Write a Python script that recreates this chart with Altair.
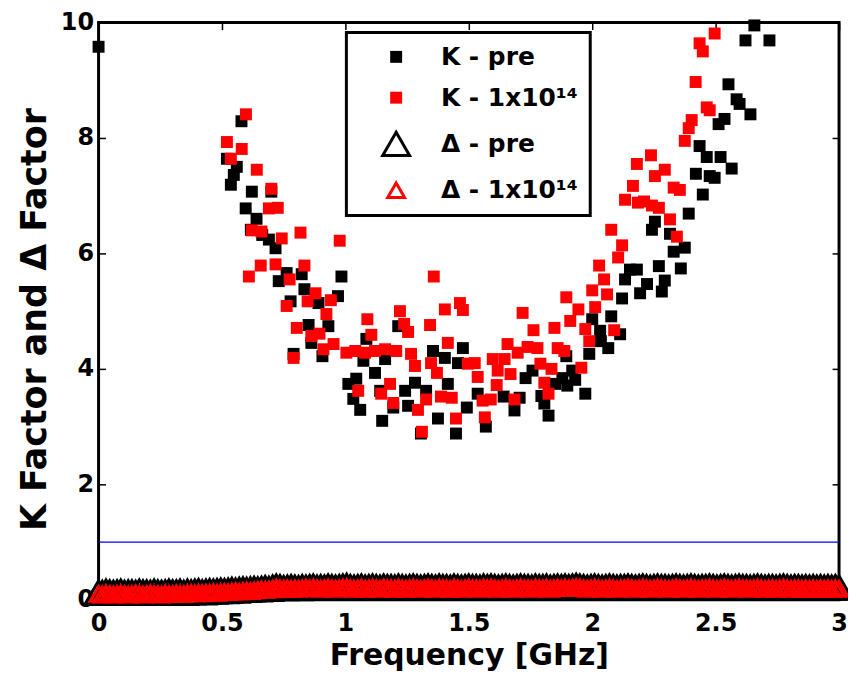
import altair as alt
import pandas as pd

FONT = "DejaVu Sans"

SERIES = ["K - pre", "K - 1x10¹⁴", "Δ - pre", "Δ - 1x10¹⁴"]

# K factor, before irradiation: (frequency GHz, K)
k_pre = [
    (0.0, 9.58), (0.52, 7.64), (0.536, 7.19), (0.548, 7.36), (0.56, 7.5), (0.579, 8.29),
    (0.596, 6.78), (0.617, 6.41), (0.621, 7.07), (0.64, 6.6), (0.663, 6.32), (0.69, 6.24),
    (0.70, 7.07), (0.717, 6.09), (0.73, 5.52), (0.762, 5.66), (0.778, 5.17), (0.79, 4.26),
    (0.823, 5.64), (0.834, 5.38), (0.851, 4.76), (0.862, 4.45), (0.891, 5.14), (0.907, 4.22),
    (0.931, 4.74), (0.97, 5.26), (0.984, 5.6), (1.012, 3.74), (1.032, 3.48), (1.044, 3.83),
    (1.06, 3.29), (1.073, 4.14), (1.085, 4.52), (1.12, 3.93), (1.141, 3.62), (1.149, 3.1),
    (1.161, 4.17), (1.194, 3.33), (1.214, 4.74), (1.242, 3.62), (1.254, 3.36), (1.282, 3.76),
    (1.306, 2.88), (1.327, 3.62), (1.355, 4.31), (1.375, 3.14), (1.403, 4.19), (1.415, 3.74),
    (1.448, 2.88), (1.456, 4.1), (1.476, 4.36), (1.492, 3.33), (1.536, 3.57), (1.569, 3.0),
    (1.641, 3.52), (1.685, 3.28), (1.706, 3.5), (1.73, 3.84), (1.758, 3.97), (1.794, 3.53),
    (1.806, 3.4), (1.823, 3.19), (1.851, 3.74), (1.879, 3.84), (1.895, 4.22), (1.899, 3.71),
    (1.919, 3.97), (1.931, 3.81), (1.972, 3.57), (1.988, 4.26), (2.0, 4.86), (2.032, 4.66),
    (2.035, 4.48), (2.065, 4.36), (2.077, 4.91), (2.113, 4.6), (2.121, 5.22), (2.133, 5.55),
    (2.153, 5.72), (2.181, 5.72), (2.194, 5.31), (2.222, 5.47), (2.242, 6.41), (2.254, 6.55),
    (2.27, 5.78), (2.282, 5.34), (2.294, 5.53), (2.315, 6.34), (2.33, 6.03), (2.359, 5.74),
    (2.375, 6.1), (2.391, 6.69), (2.42, 7.38), (2.435, 7.86), (2.448, 7.02), (2.464, 7.67),
    (2.476, 7.34), (2.496, 7.31), (2.512, 8.24), (2.52, 7.67), (2.536, 8.33), (2.552, 8.93),
    (2.565, 7.47), (2.585, 8.67), (2.597, 8.59), (2.621, 9.69), (2.641, 8.41), (2.657, 9.95),
    (2.718, 9.69),
]

# K factor, after 1x10^14
k_irr = [
    (0.52, 7.93), (0.536, 7.64), (0.58, 7.81), (0.597, 8.41), (0.609, 5.6), (0.621, 6.4),
    (0.641, 7.45), (0.657, 5.79), (0.66, 6.38), (0.69, 6.78), (0.70, 7.12), (0.717, 5.81),
    (0.726, 6.79), (0.742, 6.26), (0.762, 5.09), (0.774, 5.55), (0.79, 4.19), (0.803, 4.71),
    (0.818, 6.36), (0.834, 5.79), (0.847, 5.17), (0.862, 4.57), (0.879, 5.31), (0.895, 4.61),
    (0.911, 4.34), (0.923, 4.95), (0.941, 5.19), (0.952, 4.43), (0.977, 6.22), (1.004, 4.28),
    (1.04, 4.31), (1.052, 3.62), (1.08, 4.28), (1.089, 4.86), (1.105, 4.59), (1.12, 4.31),
    (1.145, 3.57), (1.161, 4.34), (1.181, 3.74), (1.194, 3.41), (1.206, 4.31), (1.221, 5.0),
    (1.238, 4.78), (1.254, 4.64), (1.266, 4.26), (1.282, 4.05), (1.294, 3.29), (1.31, 2.91),
    (1.327, 3.47), (1.343, 4.76), (1.347, 4.1), (1.358, 5.6), (1.371, 3.93), (1.387, 3.52),
    (1.403, 5.03), (1.415, 4.45), (1.431, 3.5), (1.448, 3.14), (1.464, 5.14), (1.476, 5.02),
    (1.496, 4.09), (1.524, 4.1), (1.536, 3.86), (1.556, 3.45), (1.565, 3.16), (1.589, 3.47),
    (1.597, 4.17), (1.613, 3.72), (1.617, 3.97), (1.645, 4.17), (1.657, 4.43), (1.669, 3.91),
    (1.685, 3.47), (1.698, 4.28), (1.718, 4.97), (1.738, 4.38), (1.762, 4.67), (1.778, 4.36),
    (1.79, 4.09), (1.806, 3.76), (1.823, 3.57), (1.835, 4.0), (1.847, 4.71), (1.86, 4.36),
    (1.887, 4.31), (1.895, 5.24), (1.911, 4.83), (1.944, 5.03), (1.956, 4.02), (1.972, 4.69),
    (1.988, 4.48), (2.0, 5.36), (2.012, 5.07), (2.028, 5.79), (2.048, 5.55), (2.06, 5.29),
    (2.077, 6.41), (2.089, 4.67), (2.105, 5.93), (2.121, 6.14), (2.133, 6.93), (2.165, 7.17),
    (2.181, 7.55), (2.185, 6.88), (2.21, 6.9), (2.238, 7.7), (2.242, 6.83), (2.254, 7.34),
    (2.27, 6.79), (2.294, 7.45), (2.315, 6.59), (2.33, 7.14), (2.343, 6.29), (2.355, 7.1),
    (2.375, 7.95), (2.391, 8.17), (2.403, 8.31), (2.419, 8.97), (2.435, 9.64), (2.448, 9.5),
    (2.464, 8.53), (2.476, 8.48), (2.496, 9.81),
]

# Delta factor sweep: 201 frequency points, 0 to 3 GHz
delta_freq = [round(0.015 * i, 3) for i in range(201)]

delta_pre = [
    0.13, 0.12, 0.14, 0.13, 0.12, 0.13, 0.14, 0.12, 0.13, 0.13,
    0.12, 0.14, 0.13, 0.13, 0.12, 0.14, 0.13, 0.12, 0.13, 0.14,
    0.13, 0.13, 0.14, 0.12, 0.14, 0.13, 0.14, 0.15, 0.13, 0.14,
    0.15, 0.14, 0.15, 0.16, 0.15, 0.16, 0.17, 0.16, 0.17, 0.18,
    0.17, 0.18, 0.19, 0.18, 0.19, 0.20, 0.19, 0.21, 0.23, 0.22,
    0.20, 0.21, 0.22, 0.21, 0.20, 0.22, 0.21, 0.22, 0.23, 0.21,
    0.22, 0.21, 0.23, 0.22, 0.21, 0.22, 0.23, 0.24, 0.22, 0.21,
    0.22, 0.23, 0.21, 0.22, 0.23, 0.22, 0.21, 0.23, 0.22, 0.22,
    0.21, 0.23, 0.22, 0.21, 0.22, 0.23, 0.22, 0.21, 0.22, 0.23,
    0.22, 0.21, 0.23, 0.22, 0.22, 0.21, 0.23, 0.22, 0.21, 0.22,
    0.23, 0.22, 0.22, 0.21, 0.23, 0.22, 0.23, 0.22, 0.21, 0.22,
    0.23, 0.22, 0.21, 0.22, 0.23, 0.22, 0.22, 0.21, 0.23, 0.22,
    0.22, 0.23, 0.21, 0.22, 0.23, 0.22, 0.23, 0.22, 0.23, 0.24,
    0.23, 0.22, 0.21, 0.22, 0.23, 0.22, 0.21, 0.22, 0.23, 0.22,
    0.21, 0.22, 0.22, 0.23, 0.22, 0.21, 0.22, 0.23, 0.22, 0.21,
    0.22, 0.23, 0.22, 0.22, 0.21, 0.22, 0.23, 0.22, 0.21, 0.22,
    0.23, 0.22, 0.21, 0.22, 0.22, 0.23, 0.22, 0.21, 0.22, 0.23,
    0.22, 0.21, 0.22, 0.23, 0.22, 0.22, 0.21, 0.22, 0.23, 0.22,
    0.21, 0.22, 0.22, 0.21, 0.22, 0.23, 0.22, 0.21, 0.22, 0.22,
    0.21, 0.22, 0.21, 0.22, 0.21, 0.22, 0.21, 0.22, 0.21, 0.22,
    0.21,
]

delta_irr = [
    0.10, 0.09, 0.11, 0.10, 0.09, 0.10, 0.11, 0.10, 0.09, 0.10,
    0.11, 0.10, 0.09, 0.10, 0.11, 0.10, 0.10, 0.09, 0.11, 0.10,
    0.10, 0.11, 0.10, 0.10, 0.11, 0.12, 0.11, 0.12, 0.11, 0.12,
    0.12, 0.13, 0.12, 0.13, 0.14, 0.13, 0.14, 0.15, 0.14, 0.15,
    0.16, 0.15, 0.16, 0.17, 0.18, 0.17, 0.18, 0.19, 0.21, 0.20,
    0.19, 0.20, 0.19, 0.20, 0.19, 0.20, 0.21, 0.20, 0.21, 0.20,
    0.19, 0.20, 0.21, 0.20, 0.19, 0.20, 0.21, 0.22, 0.20, 0.19,
    0.20, 0.21, 0.19, 0.20, 0.21, 0.20, 0.19, 0.21, 0.20, 0.20,
    0.19, 0.21, 0.20, 0.19, 0.20, 0.21, 0.20, 0.19, 0.20, 0.21,
    0.20, 0.19, 0.21, 0.20, 0.20, 0.19, 0.21, 0.20, 0.19, 0.20,
    0.21, 0.20, 0.20, 0.19, 0.21, 0.20, 0.21, 0.20, 0.19, 0.20,
    0.21, 0.20, 0.19, 0.20, 0.21, 0.20, 0.20, 0.19, 0.21, 0.20,
    0.20, 0.21, 0.19, 0.20, 0.21, 0.20, 0.21, 0.20, 0.21, 0.22,
    0.21, 0.20, 0.19, 0.20, 0.21, 0.20, 0.19, 0.20, 0.21, 0.20,
    0.19, 0.20, 0.20, 0.21, 0.20, 0.19, 0.20, 0.21, 0.20, 0.19,
    0.20, 0.21, 0.20, 0.20, 0.19, 0.20, 0.21, 0.20, 0.19, 0.20,
    0.21, 0.20, 0.19, 0.20, 0.20, 0.21, 0.20, 0.19, 0.20, 0.21,
    0.20, 0.19, 0.20, 0.21, 0.20, 0.20, 0.19, 0.20, 0.21, 0.20,
    0.19, 0.20, 0.20, 0.19, 0.20, 0.21, 0.20, 0.19, 0.20, 0.20,
    0.19, 0.20, 0.19, 0.20, 0.19, 0.20, 0.19, 0.20, 0.19, 0.20,
    0.19,
]

stability_limit = 1.0
freq_range = [0.0, 3.0]
x_ticks = [0, 0.5, 1, 1.5, 2, 2.5, 3]
y_ticks = [0, 2, 4, 6, 8, 10]

rows = []
for f, v in k_pre:
    rows.append({"f": f, "v": v, "s": SERIES[0]})
for f, v in k_irr:
    rows.append({"f": f, "v": v, "s": SERIES[1]})
for f, v in zip(delta_freq, delta_pre):
    rows.append({"f": f, "v": v, "s": SERIES[2]})
for f, v in zip(delta_freq, delta_irr):
    rows.append({"f": f, "v": v, "s": SERIES[3]})
df = pd.DataFrame(rows)

xscale = alt.Scale(domain=freq_range, nice=False, zero=False)
yscale = alt.Scale(domain=[0, 10], nice=False)

tick_style = dict(tickSize=7, tickWidth=1.5, tickColor="black", offset=-7,
                  domain=False, grid=False)

x_bottom = alt.Axis(orient="bottom", values=x_ticks, format="~g", labelFlush=False,
                    labelFont=FONT, labelFontSize=24, labelFontWeight="bold",
                    labelColor="black", labelPadding=12,
                    title="Frequency [GHz]", titleFont=FONT, titleFontSize=30,
                    titleFontWeight="bold", titleColor="black", titlePadding=5,
                    **tick_style)
y_left = alt.Axis(orient="left", values=y_ticks, format="d", labelFlush=False,
                  labelFont=FONT, labelFontSize=24, labelFontWeight="bold",
                  labelColor="black", labelPadding=5,
                  title="K Factor and Δ Factor", titleFont=FONT, titleFontSize=35,
                  titleFontWeight="bold", titleColor="black", titlePadding=8,
                  titleY=298,
                  **tick_style)
x_top = alt.Axis(orient="top", values=x_ticks, labels=False, title=None, **tick_style)
y_right = alt.Axis(orient="right", values=y_ticks, labels=False, title=None, **tick_style)

leg = alt.Legend(title=None, orient="none", legendX=249, legendY=10,
                 padding=12, symbolOffset=23, labelOffset=30, rowPadding=15,
                 labelFont=FONT, labelFontSize=25, labelFontWeight="bold",
                 labelColor="black", labelLimit=400,
                 fillColor="white", strokeColor="black")

limit_df = pd.DataFrame({"f0": [freq_range[0]], "f1": [freq_range[1]], "k": [stability_limit]})

rule = alt.Chart(limit_df).mark_rule(color="#0000ff", strokeWidth=1.3).encode(
    x=alt.X("f0:Q", scale=xscale, axis=x_top),
    x2="f1:Q",
    y=alt.Y("k:Q", scale=yscale, axis=y_right),
)

points = alt.Chart(df).mark_point(opacity=1).encode(
    x=alt.X("f:Q", scale=xscale, axis=x_bottom),
    y=alt.Y("v:Q", scale=yscale, axis=y_left),
    shape=alt.Shape("s:N", scale=alt.Scale(domain=SERIES,
                    range=["square", "square", "triangle-up", "triangle-up"]), legend=leg),
    fill=alt.Fill("s:N", scale=alt.Scale(domain=SERIES,
                  range=["#000000", "#ff0000", "transparent", "transparent"]), legend=leg),
    stroke=alt.Stroke("s:N", scale=alt.Scale(domain=SERIES,
                      range=["#000000", "#ff0000", "#000000", "#ff0000"]), legend=leg),
    size=alt.Size("s:N", scale=alt.Scale(type="ordinal", domain=SERIES,
                  range=[144, 144, 729, 289]), legend=leg),
    strokeWidth=alt.StrokeWidth("s:N", scale=alt.Scale(type="ordinal", domain=SERIES,
                                range=[0, 0, 3, 3]), legend=leg),
)

chart = alt.layer(rule, points).properties(
    width=744, height=580,
    autosize=alt.AutoSizeParams(type="none"),
    padding={"left": 91, "top": 13, "right": 9, "bottom": 78},
    background="white",
).configure_view(stroke="black", strokeWidth=3).configure_legend(strokeWidth=3)

chart.save("out.html", embed_options={"renderer": "svg", "actions": False})
